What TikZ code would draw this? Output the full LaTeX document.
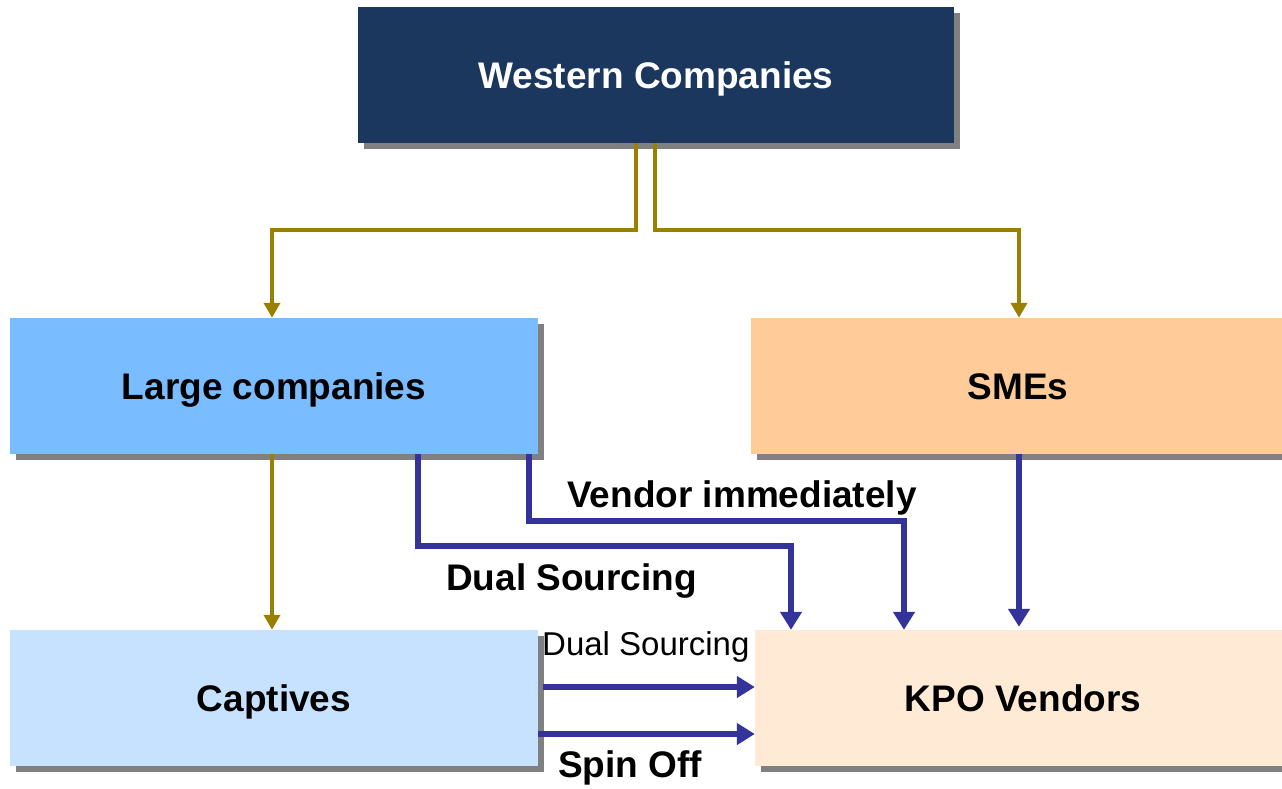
\documentclass[tikz,border=0pt]{standalone}
\usepackage{fontspec}
\setmainfont{Liberation Sans}
\usetikzlibrary{arrows.meta,shadows}
\definecolor{wcol}{HTML}{1B375E}
\definecolor{lcol}{HTML}{79BCFF}
\definecolor{scol}{HTML}{FFCC99}
\definecolor{ccol}{HTML}{C6E2FF}
\definecolor{kcol}{HTML}{FFEAD5}
\definecolor{goldc}{HTML}{998000}
\definecolor{bluec}{HTML}{333399}
\definecolor{shadc}{HTML}{808080}
\tikzset{
  box/.style={draw=none, rectangle, minimum height=136pt, text height=26.5pt, text depth=0pt,
    font=\fontsize{37}{44}\selectfont\bfseries,
    drop shadow={shadow xshift=6pt, shadow yshift=-6pt, fill=shadc, opacity=1}},
  goldarrow/.style={draw=goldc, line width=4pt, -{Triangle[width=16pt,length=15pt]}},
  bluearrow/.style={draw=bluec, line width=6pt, -{Triangle[width=21pt,length=18pt]}},
  lbl/.style={anchor=base west, inner sep=0pt, font=\fontsize{37}{44}\selectfont\bfseries},
  lblr/.style={anchor=base west, inner sep=0pt, font=\fontsize{33}{40}\selectfont},
}
\begin{document}
\begin{tikzpicture}[x=1pt,y=-1pt]
\clip (0,0) rectangle (1282,788);
\fill[white] (0,0) rectangle (1282,788);
% boxes
\node[box, fill=wcol, text=white, minimum width=596pt] (W) at (656,75) {Western Companies};
\node[box, fill=lcol, minimum width=528pt] (L) at (274,386) {Large companies};
\node[box, fill=scol, minimum width=531pt] (S) at (1016.5,386) {\hspace*{3pt}SMEs};
\node[box, fill=ccol, minimum width=528pt] (C) at (274,698) {Captives};
\node[box, fill=kcol, minimum width=527pt] (K) at (1018.5,698) {\hspace*{9pt}KPO Vendors};
% gold connectors
\draw[goldarrow] ([xshift=-20pt]W.south) -- ++(0,87) -| ([xshift=-2pt]L.north);
\draw[goldarrow] ([xshift=-1pt]W.south) -- ++(0,87) -| ([xshift=2.5pt]S.north);
\draw[goldarrow] ([xshift=-2pt]L.south) -- ([xshift=-2pt]C.north);
% blue connectors
\draw[bluearrow] ([xshift=144pt]L.south) -- ++(0,92) -| ([xshift=-227.5pt]K.north);
\draw[bluearrow] ([xshift=255pt]L.south) -- ++(0,67) -| ([xshift=-114.5pt]K.north);
\draw[bluearrow] ([xshift=2.5pt]S.south) -- ([xshift=0.5pt,yshift=3pt]K.north);
\draw[bluearrow] ([xshift=5pt,yshift=11pt]C.east) -- ([yshift=11pt]K.west);
\draw[bluearrow] ([yshift=-36pt]C.east) -- ([yshift=-36pt]K.west);
% labels
\node[lbl] (vi) at (567,507) {Vendor immediately};
\node[lbl] (ds1) at (446,590) {Dual Sourcing};
\node[lblr] (ds2) at (542,655) {Dual Sourcing};
\node[lbl] (so) at (558,777) {Spin Off};
\end{tikzpicture}
\end{document}
